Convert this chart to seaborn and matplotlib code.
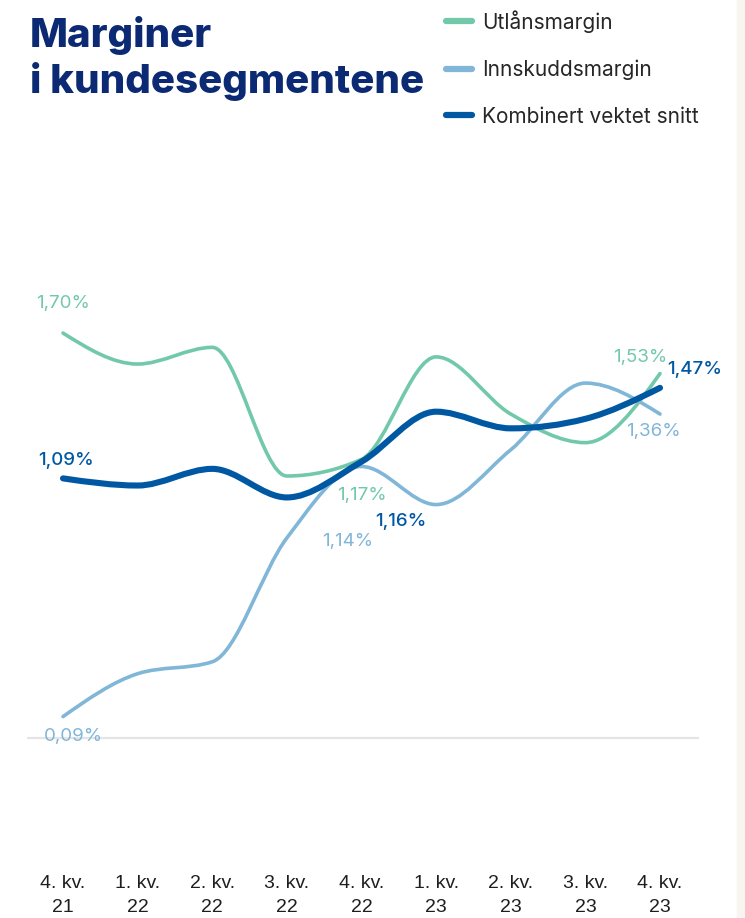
import numpy as np
import matplotlib
matplotlib.use("Agg")
import matplotlib.pyplot as plt
import seaborn as sns
from matplotlib.path import Path
from matplotlib.patches import PathPatch, Rectangle
from matplotlib.lines import Line2D

# data
quarters = ["4. kv.\n21", "1. kv.\n22", "2. kv.\n22", "3. kv.\n22", "4. kv.\n22",
            "1. kv.\n23", "2. kv.\n23", "3. kv.\n23", "4. kv.\n23"]
utlan = [1.70, 1.57, 1.64, 1.10, 1.17, 1.60, 1.36, 1.24, 1.53]
innskudd = [0.09, 0.27, 0.32, 0.84, 1.14, 0.98, 1.21, 1.49, 1.36]
kombinert = [1.09, 1.06, 1.13, 1.01, 1.16, 1.37, 1.30, 1.34, 1.47]

series_names = ["Utlånsmargin", "Innskuddsmargin", "Kombinert vektet snitt"]
colors = ["#72c9a9", "#80b6d8", "#0058a3"]
label_colors = ["#72c9a9", "#80b6d8", "#0058a3"]
widths = [2.6, 2.6, 4.4]

sns.set_theme(style="white")
plt.rcParams["font.family"] = ["Inter", "DejaVu Sans"]


def monotone_path(xs, ys):
    """Bezier path of a monotone cubic (like d3 curveMonotoneX) through the points."""
    xs = np.asarray(xs, float)
    ys = np.asarray(ys, float)
    n = len(xs)
    h = np.diff(xs)
    s = np.diff(ys) / h
    t = np.zeros(n)
    for i in range(1, n - 1):
        p = (s[i - 1] * h[i] + s[i] * h[i - 1]) / (h[i - 1] + h[i])
        t[i] = (np.sign(s[i - 1]) + np.sign(s[i])) * min(abs(s[i - 1]), abs(s[i]), 0.5 * abs(p))
    t[0] = (3 * s[0] - t[1]) / 2
    t[-1] = (3 * s[-1] - t[-2]) / 2
    verts = [(xs[0], ys[0])]
    codes = [Path.MOVETO]
    for i in range(n - 1):
        dx = h[i] / 3
        verts += [(xs[i] + dx, ys[i] + dx * t[i]),
                  (xs[i + 1] - dx, ys[i + 1] - dx * t[i + 1]),
                  (xs[i + 1], ys[i + 1])]
        codes += [Path.CURVE4] * 3
    return Path(verts, codes)


fig = plt.figure(figsize=(7.45, 9.18), dpi=100)
ax = fig.add_axes([27 / 745, 58 / 918, 672 / 745, 710 / 918])

x = np.arange(len(quarters))
ax.axhline(0, color="#e4e4e4", lw=1.6, zorder=1)

for vals, c, w in zip([utlan, innskudd, kombinert], colors, widths):
    ax.add_patch(PathPatch(monotone_path(x, vals), fill=False, edgecolor=c,
                           lw=w, capstyle="round", joinstyle="round", zorder=3))

ax.set_xlim(-0.4824, 8.5226)
ax.set_ylim(-0.512, 2.4685)

ax.set_xticks(x)
ax.set_xticklabels(quarters, fontsize=14, color="#1e1e1e",
                   family=["Liberation Sans", "DejaVu Sans"], linespacing=1.5)
ax.tick_params(axis="x", length=0, pad=11)
ax.set_yticks([])
sns.despine(ax=ax, left=True, bottom=True)


def fmt(v):
    return f"{v:.2f}".replace(".", ",") + "%"


# (series index, point index, dx px, dy px)
annots = [(0, 0, 0, 30), (2, 0, 3, 18), (1, 0, 10, -20),
          (0, 4, 0, -36), (1, 4, -14, -75), (2, 4, 39, -60),
          (0, 8, -20, 16), (2, 8, 35, 18), (1, 8, -7, -17)]
all_vals = [utlan, innskudd, kombinert]
for si, pi, dx, dy in annots:
    v = all_vals[si][pi]
    ax.annotate(fmt(v), (x[pi], v), xytext=(dx, dy), textcoords="offset pixels",
                ha="center", va="center", fontsize=13.5, color=label_colors[si],
                fontweight="medium" if si == 2 else "normal", zorder=5)

# title
fig.text(30 / 745, 1 - 47 / 918, "Marginer", fontsize=29, fontweight="heavy",
         color="#0b2a73", va="baseline", ha="left")
fig.text(30 / 745, 1 - 93 / 918, "i kundesegmentene", fontsize=29, fontweight="heavy",
         color="#0b2a73", va="baseline", ha="left")

handles = [Line2D([0], [0], color=c, lw=4.5) for c in colors]
fig.legend(handles, series_names, loc="upper left", bbox_to_anchor=(446 / 745, 1 - 10 / 918),
           frameon=False, fontsize=15, handlelength=1.25, handletextpad=0.5,
           labelspacing=1.28, borderpad=0, borderaxespad=0)

fig.patches.append(Rectangle((737 / 745, 0), 8 / 745, 1, transform=fig.transFigure,
                             color="#f8f4f0", zorder=0))

fig.savefig("out.png", dpi=100)
